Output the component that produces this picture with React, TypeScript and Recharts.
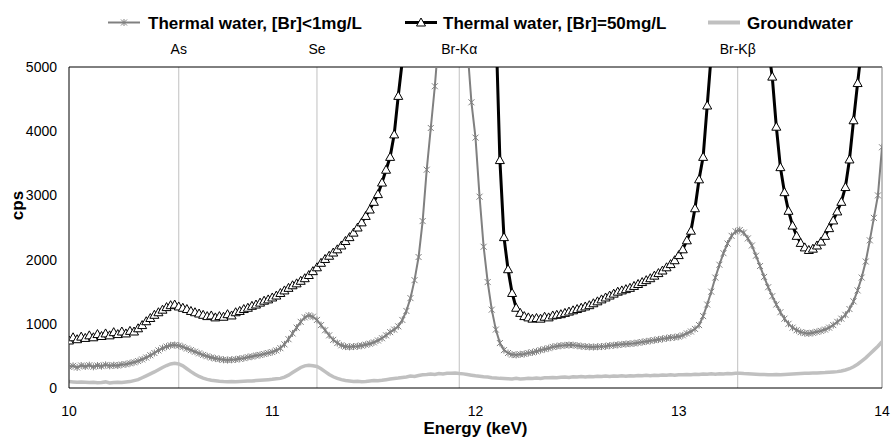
import React from 'react';
import { LineChart, Line, XAxis, YAxis, ReferenceLine } from 'recharts';

const FONT = '"Liberation Sans", Arial, sans-serif';

// energy grid (keV)
const energy = [
  10.0, 10.02, 10.04, 10.06, 10.08, 10.1, 10.12, 10.14, 10.16, 10.18,
  10.2, 10.22, 10.24, 10.26, 10.28, 10.3, 10.32, 10.34, 10.36, 10.38,
  10.4, 10.42, 10.44, 10.46, 10.48, 10.5, 10.52, 10.54, 10.56, 10.58,
  10.6, 10.62, 10.64, 10.66, 10.68, 10.7, 10.72, 10.74, 10.76, 10.78,
  10.8, 10.82, 10.84, 10.86, 10.88, 10.9, 10.92, 10.94, 10.96, 10.98,
  11.0, 11.02, 11.04, 11.06, 11.08, 11.1, 11.12, 11.14, 11.16, 11.18,
  11.2, 11.22, 11.24, 11.26, 11.28, 11.3, 11.32, 11.34, 11.36, 11.38,
  11.4, 11.42, 11.44, 11.46, 11.48, 11.5, 11.52, 11.54, 11.56, 11.58,
  11.6, 11.62, 11.64, 11.66, 11.68, 11.7, 11.72, 11.74, 11.76, 11.78,
  11.8, 11.82, 11.84, 11.86, 11.88, 11.9, 11.92, 11.94, 11.96, 11.98,
  12.0, 12.02, 12.04, 12.06, 12.08, 12.1, 12.12, 12.14, 12.16, 12.18,
  12.2, 12.22, 12.24, 12.26, 12.28, 12.3, 12.32, 12.34, 12.36, 12.38,
  12.4, 12.42, 12.44, 12.46, 12.48, 12.5, 12.52, 12.54, 12.56, 12.58,
  12.6, 12.62, 12.64, 12.66, 12.68, 12.7, 12.72, 12.74, 12.76, 12.78,
  12.8, 12.82, 12.84, 12.86, 12.88, 12.9, 12.92, 12.94, 12.96, 12.98,
  13.0, 13.02, 13.04, 13.06, 13.08, 13.1, 13.12, 13.14, 13.16, 13.18,
  13.2, 13.22, 13.24, 13.26, 13.28, 13.3, 13.32, 13.34, 13.36, 13.38,
  13.4, 13.42, 13.44, 13.46, 13.48, 13.5, 13.52, 13.54, 13.56, 13.58,
  13.6, 13.62, 13.64, 13.66, 13.68, 13.7, 13.72, 13.74, 13.76, 13.78,
  13.8, 13.82, 13.84, 13.86, 13.88, 13.9, 13.92, 13.94, 13.96, 13.98,
  14.0,
];

// Thermal water, [Br]<1mg/L
const thermalLow = [
  330, 345, 320, 350, 335, 355, 330, 350, 340, 360,
  345, 355, 350, 365, 370, 385, 400, 420, 445, 475,
  510, 545, 585, 620, 645, 665, 670, 660, 640, 615,
  590, 565, 540, 515, 495, 475, 460, 450, 440, 435,
  440, 445, 455, 465, 480, 490, 505, 515, 530, 545,
  560, 585, 620, 680, 760, 850, 940, 1030, 1100, 1130,
  1110, 1060, 980, 900, 820, 750, 700, 665, 645, 640,
  645, 650, 660, 675, 690, 710, 740, 775, 820, 870,
  910, 960, 1060, 1200, 1400, 1680, 2040, 2600, 3400, 4050,
  4700, 5500, 6500, 8000, 9000, 9500, 9000, 7500, 5300, 4450,
  3900, 2980, 2200, 1650, 1220, 910, 700, 590, 545, 520,
  515, 525, 530, 545, 555, 570, 590, 605, 620, 640,
  650, 660, 665, 670, 668, 660, 650, 645, 640, 638,
  642, 645, 650, 660, 665, 672, 680, 685, 690, 695,
  705, 715, 725, 735, 745, 755, 765, 775, 785, 790,
  800, 820, 850, 880, 920, 980, 1120, 1300, 1500, 1720,
  1920, 2100, 2250, 2370, 2440, 2460, 2420, 2330, 2220, 2060,
  1900, 1730, 1570, 1430, 1300, 1180, 1080, 1000, 940, 900,
  870, 855, 850, 860, 875, 890, 910, 940, 980, 1030,
  1080, 1140, 1230, 1350, 1520, 1720, 1970, 2300, 2650, 3000,
  3750,
];

// Thermal water, [Br]=50mg/L
const thermalHigh = [
  740, 790, 760, 800, 780, 820, 790, 840, 810, 850,
  820, 870, 840, 880, 850, 890, 880, 930, 980, 1040,
  1090, 1140, 1180, 1220, 1260, 1290, 1300, 1270, 1250, 1230,
  1200, 1180, 1160, 1140, 1120, 1130, 1100, 1120, 1110, 1150,
  1130, 1180, 1200, 1230, 1250, 1280, 1300, 1330, 1360, 1380,
  1410, 1440, 1480, 1520, 1560, 1600, 1630, 1670, 1710, 1760,
  1820, 1880, 1950, 2010, 2060, 2110, 2160, 2220, 2290, 2350,
  2420, 2500, 2580, 2680, 2780, 2900, 3020, 3200, 3400, 3600,
  3950, 4550, 5100, 6000, 7500, 9000, 11000, 13000, 15000, 17000,
  19000, 21000, 23000, 24000, 25000, 25000, 24000, 22000, 19000, 16000,
  13000, 10500, 8500, 7200, 6300, 5700, 3550, 2350, 1850, 1480,
  1250, 1170, 1120, 1100, 1080, 1090, 1080, 1110, 1100, 1130,
  1140, 1150, 1170, 1190, 1210, 1230, 1250, 1270, 1290, 1320,
  1350, 1380, 1410, 1440, 1470, 1500, 1520, 1540, 1560, 1590,
  1620, 1650, 1680, 1710, 1750, 1790, 1830, 1880, 1930, 1990,
  2070, 2160, 2300, 2450, 2800, 3250, 3600, 4400, 5200, 6500,
  8000, 10000, 12000, 14000, 15000, 15500, 15000, 14000, 12000, 10000,
  8000, 6500, 5300, 4850, 4070, 3440, 3050, 2760, 2530, 2370,
  2260, 2190, 2150, 2170, 2220, 2280, 2370, 2490, 2610, 2750,
  2900, 3130, 3560, 4170, 4750, 5300, 6200, 7500, 9000, 11000,
  13000,
];

// Groundwater
const groundwater = [
  100, 95, 90, 92, 88, 85, 90, 82, 86, 95,
  78, 85, 90, 84, 92, 100, 115, 130, 160, 190,
  220, 250, 285, 320, 350, 375, 385, 375, 345, 300,
  255, 215, 180, 155, 135, 120, 112, 105, 100, 98,
  102, 96, 100, 105, 110, 108, 115, 120, 125, 130,
  135, 145, 150, 170, 200, 240, 280, 320, 345, 355,
  345, 335, 300, 255, 210, 175, 150, 130, 118, 110,
  100, 105, 98, 102, 110, 115, 112, 120, 130, 140,
  148, 155, 165, 172, 185, 180, 195, 205, 210, 218,
  212, 225, 220, 230, 228, 232, 225, 220, 210, 200,
  190, 182, 175, 170, 160, 155, 150, 148, 145, 142,
  150, 140, 145, 150, 148, 155, 150, 160, 158, 165,
  160, 168, 172, 165, 175, 170, 178, 172, 180, 175,
  182, 178, 185, 180, 188, 182, 190, 185, 192, 188,
  195, 190, 198, 192, 200, 196, 204, 198, 205, 200,
  208, 205, 212, 208, 215, 210, 218, 214, 220, 216,
  222, 218, 225, 222, 228, 230, 225, 222, 218, 214,
  210, 212, 208, 205, 210, 205, 212, 215, 218, 222,
  225, 228, 230, 232, 235, 238, 240, 245, 250, 255,
  265, 280, 300, 330, 370, 420, 470, 530, 590, 650,
  720,
];

const peakNames = ['As', 'Se', 'Br-Kα', 'Br-Kβ'];
const peakEnergy = [10.54, 11.22, 11.92, 13.29];

const xTicks = [10, 11, 12, 13, 14];
const yTicks = [0, 1000, 2000, 3000, 4000, 5000];

const data = energy.map((e, i) => ({
  e,
  low: thermalLow[i],
  high: thermalHigh[i],
  gw: groundwater[i],
}));

const StarDot = (props: any) => {
  const { cx, cy } = props;
  if (cx == null || cy == null) return <g />;
  return (
    <path
      d={`M${cx - 3},${cy - 3}L${cx + 3},${cy + 3}M${cx - 3},${cy + 3}L${cx + 3},${cy - 3}M${cx},${cy - 3.5}L${cx},${cy + 3.5}`}
      stroke="#808080"
      strokeWidth={1}
      fill="none"
    />
  );
};

const TriDot = (props: any) => {
  const { cx, cy } = props;
  if (cx == null || cy == null) return <g />;
  return (
    <path
      d={`M${cx},${cy - 4.5}L${cx + 4.5},${cy + 3.5}L${cx - 4.5},${cy + 3.5}Z`}
      fill="#fff"
      stroke="#000"
      strokeWidth={1}
    />
  );
};

const CpsLabel = (props: any) => {
  const vb = props.viewBox;
  const x = vb.x + 8;
  const y = vb.y + vb.height / 2 - 22;
  return (
    <text
      x={x}
      y={y}
      transform={`rotate(-90 ${x} ${y})`}
      textAnchor="middle"
      dominantBaseline="central"
      fontFamily={FONT}
      fontWeight="bold"
      fontSize={17}
      fill="#000"
    >
      cps
    </text>
  );
};

const Legend = () => (
  <svg width={893} height={40} style={{ position: 'absolute', left: 0, top: 0 }}>
    <g fontFamily={FONT} fontWeight="bold" fontSize={17} fill="#000">
      <line x1={108} x2={140} y1={22.5} y2={22.5} stroke="#808080" strokeWidth={2} />
      <StarDot cx={124} cy={22.5} />
      <text x={148} y={28.5}>Thermal water, [Br]&lt;1mg/L</text>

      <line x1={405} x2={437} y1={22.5} y2={22.5} stroke="#000" strokeWidth={3} />
      <TriDot cx={421} cy={22.5} />
      <text x={443} y={28.5}>Thermal water, [Br]=50mg/L</text>

      <line x1={708} x2={740} y1={22.5} y2={22.5} stroke="#c0c0c0" strokeWidth={4} />
      <text x={747} y={28.5}>Groundwater</text>
    </g>
  </svg>
);

export default function App() {
  return (
    <div style={{ position: 'absolute', left: 0, top: 0, width: 893, height: 439, background: '#fff' }}>
      <LineChart
        width={893}
        height={439}
        data={data}
        margin={{ top: 67, right: 11, bottom: 21, left: 9 }}
      >
        <XAxis
          dataKey="e"
          type="number"
          domain={[10, 14]}
          ticks={xTicks}
          allowDataOverflow
          height={30}
          tickLine={false}
          tickSize={6}
          tickMargin={12}
          axisLine={{ stroke: '#000', strokeWidth: 1 }}
          tick={{ fill: '#000', fontSize: 14, fontFamily: FONT }}
          label={{
            value: 'Energy (keV)',
            position: 'bottom',
            offset: 4,
            style: { fill: '#000', fontSize: 17, fontWeight: 'bold', fontFamily: FONT },
          }}
        />
        <YAxis
          type="number"
          domain={[0, 5000]}
          ticks={yTicks}
          allowDataOverflow
          width={60}
          tickLine={false}
          tickSize={6}
          tickMargin={6}
          axisLine={{ stroke: '#000', strokeWidth: 1 }}
          tick={{ fill: '#000', fontSize: 14, fontFamily: FONT }}
          label={{ content: CpsLabel }}
        />
        {peakNames.map((name, i) => (
          <ReferenceLine
            key={name}
            x={peakEnergy[i]}
            stroke="#c0c0c0"
            strokeWidth={1}
            label={{ value: name, position: 'top', offset: 13, fill: '#000', fontSize: 14, fontFamily: FONT }}
          />
        ))}
        <ReferenceLine y={5000} stroke="#000" strokeWidth={1} />
        <ReferenceLine x={14} stroke="#808080" strokeWidth={1} />
        <Line
          dataKey="low"
          type="linear"
          stroke="#808080"
          strokeWidth={2}
          dot={StarDot}
          activeDot={false}
          isAnimationActive={false}
        />
        <Line
          dataKey="high"
          type="linear"
          stroke="#000"
          strokeWidth={3}
          dot={TriDot}
          activeDot={false}
          isAnimationActive={false}
        />
        <Line
          dataKey="gw"
          type="linear"
          stroke="#c0c0c0"
          strokeWidth={3.5}
          dot={false}
          activeDot={false}
          isAnimationActive={false}
        />
      </LineChart>
      <Legend />
    </div>
  );
}
